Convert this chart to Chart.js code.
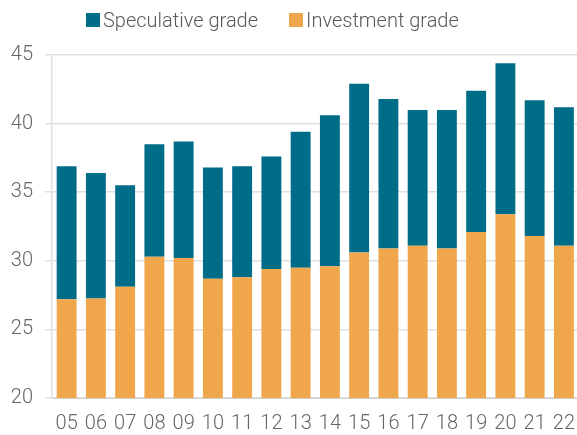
<!DOCTYPE html>
<html>
<head>
<meta charset="utf-8">
<script src="https://cdn.jsdelivr.net/npm/chart.js@4"></script>
<style>
  html, body { margin: 0; padding: 0; background: #fff; overflow: hidden; }
  #wrap { position: relative; width: 577px; height: 435px; overflow: hidden; }
  #legend {
    position: absolute; top: 8px; left: 86px;
    display: flex; align-items: center;
    font-family: Roboto, sans-serif; font-weight: 300; font-size: 20px; color: #595959;
  }
  #legend span.box { display: inline-block; width: 14px; height: 14px; margin-right: 3px; }
  #legend .item { display: flex; align-items: center; margin-right: 31px; }
</style>
</head>
<body>
<div id="wrap">
  <canvas id="myChart" width="581" height="435"></canvas>
  <div id="legend"></div>
</div>
<script>
// Years on the x axis
const years = ['05', '06', '07', '08', '09', '10', '11', '12', '13', '14', '15', '16', '17', '18', '19', '20', '21', '22'];

// Investment grade part (bottom of each bar)
const investmentGrade = [27.2, 27.25, 28.1, 30.3, 30.2, 28.7, 28.8, 29.4, 29.5, 29.6, 30.6, 30.9, 31.1, 30.9, 32.1, 33.4, 31.8, 31.1];

// Speculative grade part (stacked on top)
const speculativeGrade = [9.7, 9.15, 7.4, 8.2, 8.5, 8.1, 8.1, 8.2, 9.9, 11.0, 12.3, 10.9, 9.9, 10.1, 10.3, 11.0, 9.9, 10.1];

// Y axis tick range
const yMin = 20;
const yMax = 45;
const yStep = 5;

const tealColor = '#006d88';
const orangeColor = '#f0a64a';

// Build the legend above the chart
const legendItems = [
    { label: 'Speculative grade', color: tealColor },
    { label: 'Investment grade', color: orangeColor }
];
const legendEl = document.getElementById('legend');
legendItems.forEach(item => {
    const div = document.createElement('div');
    div.className = 'item';
    div.innerHTML = '<span class="box" style="background:' + item.color + '"></span>' + item.label;
    legendEl.appendChild(div);
});

const ctx = document.getElementById('myChart').getContext('2d');
const chart = new Chart(ctx, {
    type: 'bar',
    data: {
        labels: years,
        datasets: [
            {
                label: 'Investment grade',
                data: investmentGrade,
                backgroundColor: orangeColor,
                borderWidth: 0
            },
            {
                label: 'Speculative grade',
                data: speculativeGrade,
                backgroundColor: tealColor,
                borderWidth: 0
            }
        ]
    },
    options: {
        responsive: false,
        animation: false,
        layout: {
            padding: { top: 55, right: 0, bottom: 0, left: 0 }
        },
        plugins: {
            legend: { display: false },
            tooltip: { enabled: false }
        },
        datasets: {
            bar: { categoryPercentage: 1, barPercentage: 0.68 }
        },
        scales: {
            x: {
                stacked: true,
                afterFit: scale => { scale.height = 37; },
                grid: { display: false },
                border: { color: '#d0d0d0', width: 1 },
                ticks: {
                    color: '#666',
                    padding: 6,
                    maxRotation: 0,
                    font: { family: 'Roboto', weight: 300, size: 20 }
                }
            },
            y: {
                stacked: true,
                min: yMin,
                max: yMax,
                afterFit: scale => { scale.width = 52; },
                grid: { color: '#e0e0e0', lineWidth: 1.5, tickLength: 7 },
                border: { color: '#e0e0e0', width: 1.5 },
                ticks: {
                    stepSize: yStep,
                    color: '#666',
                    padding: 12,
                    font: { family: 'Roboto', weight: 300, size: 20 }
                }
            }
        }
    }
});
</script>
</body>
</html>
